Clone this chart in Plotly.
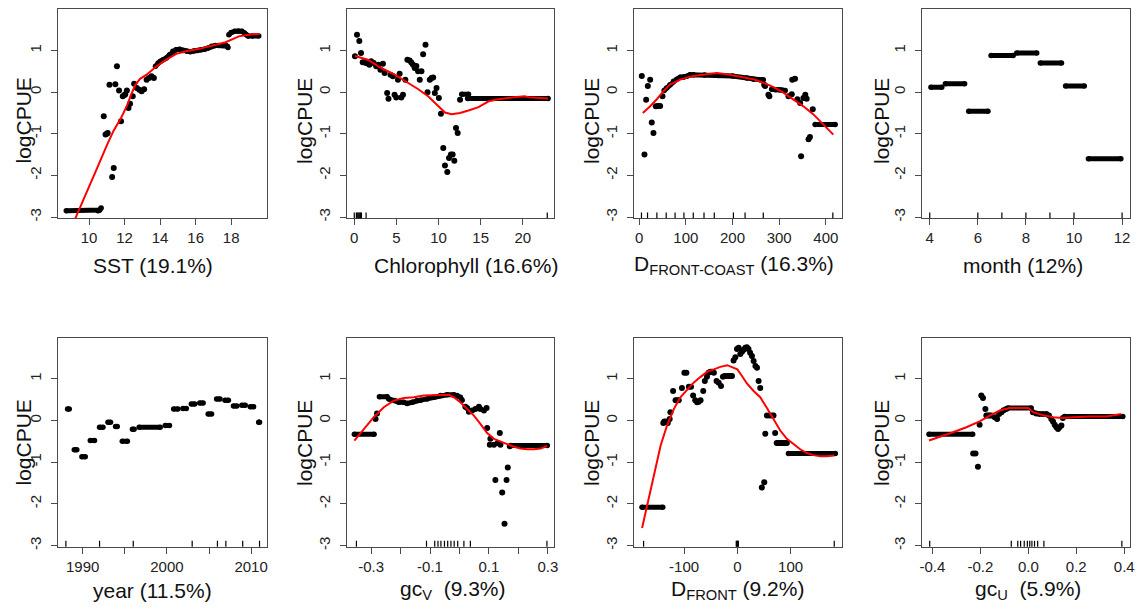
import plotly.graph_objects as go

W, H = 1139, 611

# ---------------- data ----------------
Y_TICKS = [-3, -2, -1, 0, 1]

# Panel 1: SST
sst_pts_x = [10.83, 10.93, 11.0, 11.05, 11.15, 11.3, 11.39, 11.48, 11.57, 11.69, 11.8, 11.9, 12.0, 12.04,
             12.13, 12.22, 12.31, 12.46, 12.54, 12.69, 12.83, 12.96, 13.1, 13.24, 13.37, 13.52, 13.65]
sst_pts_y = [-0.58, -1.02, -1.0, -0.98, 0.18, -2.04, -1.82, 0.19, 0.62, 0.04, -0.7, -0.1, -0.07, -0.05,
             0.04, -0.38, -0.28, -0.1, 0.2, 0.1, 0.06, 0.02, 0.07, 0.3, 0.34, 0.38, 0.34]
sst_bands_x = [[8.72, 10.5, 10.6, 10.68],
               [13.74, 13.89, 14.02, 14.17, 14.35, 14.54, 14.72, 14.9, 15.1, 15.3, 15.5, 15.7, 15.9, 16.1,
                16.3, 16.5, 16.7, 16.9, 17.1, 17.3, 17.5, 17.7, 17.78, 17.82],
               [17.87, 18.0, 18.2, 18.4, 18.6, 18.75, 18.85, 18.95, 19.2, 19.55]]
sst_bands_y = [[-2.85, -2.85, -2.83, -2.78],
               [0.62, 0.7, 0.74, 0.78, 0.82, 0.9, 0.98, 1.02, 1.03, 1.0, 0.98, 0.97, 0.99, 1.0,
                1.02, 1.03, 1.06, 1.1, 1.12, 1.12, 1.12, 1.12, 1.1, 1.07],
               [1.38, 1.43, 1.46, 1.47, 1.46, 1.42, 1.38, 1.35, 1.35, 1.35]]
sst_fit_x = [9.2, 9.91, 10.46, 11.02, 11.39, 11.8, 12.13, 12.41, 12.59, 12.87, 13.24, 13.8, 14.35,
             14.91, 15.46, 16.2, 16.94, 17.69, 18.43, 19.17, 19.6]
sst_fit_y = [-3.06, -2.38, -1.82, -1.26, -0.92, -0.62, -0.33, -0.02, 0.16, 0.32, 0.42, 0.62, 0.78,
             0.92, 0.98, 1.04, 1.12, 1.2, 1.34, 1.39, 1.39]
sst_rug = []

# Panel 2: Chlorophyll
chl_pts_x = [0.08, 0.32, 0.6, 0.8, 1.0, 1.2, 1.4, 1.6, 1.8, 2.0, 2.3, 2.6, 2.87, 3.1, 3.4, 3.6, 3.9, 4.06,
             4.3, 4.58, 4.78, 4.98, 5.18, 5.38, 5.58, 5.78, 6.06, 6.3, 6.57, 6.77, 6.97, 7.17, 7.37, 7.57,
             7.77, 7.97, 8.17, 8.45, 8.69, 8.96, 9.16, 9.36, 9.56, 9.76, 10.04, 10.28, 10.56, 10.76, 11.04,
             11.24, 11.47, 11.67, 11.87, 12.07, 12.27, 12.55]
chl_pts_y = [0.86, 1.38, 1.23, 0.94, 0.72, 0.72, 0.7, 0.69, 0.66, 0.74, 0.7, 0.62, 0.66, 0.54, 0.68, 0.46,
             -0.02, -0.16, 0.42, 0.38, -0.06, -0.13, 0.3, 0.44, -0.13, -0.06, 0.3, 0.78, 0.76, 0.71, 0.66,
             0.58, 0.63, 0.5, 0.3, 0.5, 0.91, 1.14, 0.0, 0.3, 0.34, 0.35, -0.02, 0.1, -0.14, -0.52, -1.34,
             -1.76, -1.92, -1.58, -1.5, -1.5, -1.65, -0.86, -0.98, -0.18]
chl_bands_x = [[12.75, 13.55], [13.45, 23.0]]
chl_bands_y = [[-0.05, -0.05], [-0.15, -0.15]]
chl_fit_x = [0.08, 1.6, 3.2, 4.8, 6.4, 7.6, 8.76, 9.96, 10.76, 11.55, 12.55, 13.55, 14.74, 15.94, 17.1,
             18.7, 20.2, 20.7, 21.9, 23.0]
chl_fit_y = [0.87, 0.78, 0.58, 0.42, 0.22, 0.07, -0.1, -0.34, -0.49, -0.53, -0.5, -0.44, -0.36, -0.22,
             -0.17, -0.13, -0.1, -0.12, -0.14, -0.15]
chl_rug = [0.0, 0.25, 0.35, 0.45, 0.55, 0.65, 0.75, 0.85, 1.4, 22.9]

# Panel 3: D front-coast
dfc_pts_x = [5.7, 11.4, 15, 18.6, 23.6, 27, 30.7, 35.7, 40, 45, 50, 268, 270, 277, 279, 320, 327, 328, 334,
             339, 345, 347, 352, 356, 359, 363, 366, 372]
dfc_pts_y = [0.39, -1.5, -0.18, 0.15, 0.3, -0.73, -0.98, -0.34, -0.33, -0.33, -0.1, 0.18, 0.15, -0.06, -0.1,
             -0.1, -0.05, 0.3, 0.32, -0.17, -0.26, -1.54, -0.14, -0.06, -0.16, -1.13, -1.08, -0.41]
dfc_bands_x = [[53.6, 59, 66, 73.6, 80.7, 88, 95, 102, 109, 116, 140, 170, 200, 231, 245, 259, 266],
               [284, 292, 300, 306, 313],
               [377, 420]]
dfc_bands_y = [[0.04, 0.1, 0.18, 0.26, 0.31, 0.36, 0.36, 0.38, 0.42, 0.42, 0.41, 0.4, 0.39, 0.34, 0.31, 0.3, 0.3],
               [0.07, 0.06, 0.06, 0.05, 0.04],
               [-0.78, -0.78]]
dfc_fit_x = [7.9, 23.6, 37.9, 52, 66, 88, 116, 145, 166, 188, 216, 245, 266, 288, 309, 331, 352, 374, 395, 416]
dfc_fit_y = [-0.5, -0.34, -0.17, 0.02, 0.18, 0.3, 0.39, 0.44, 0.46, 0.43, 0.38, 0.31, 0.23, 0.12, -0.01,
             -0.17, -0.34, -0.54, -0.78, -1.02]
dfc_rug = [5, 18, 38, 58, 77, 96, 116, 139, 161, 202, 227, 266, 415]

# Panel 4: month (factor-like segments)
mon_x0 = [4.05, 4.65, 5.62, 6.55, 7.62, 8.6, 9.65, 10.6]
mon_x1 = [4.5, 5.45, 6.42, 7.47, 8.45, 9.48, 10.43, 11.95]
mon_y = [0.12, 0.2, -0.46, 0.88, 0.94, 0.7, 0.15, -1.6]
mon_rug = [4, 6, 7, 8, 9, 10, 12]

# Panel 5: year
yr_x0 = [1988.2, 1989.0, 1989.9, 1990.9, 1992.0, 1993.0, 1993.9, 1994.7, 1995.9, 1996.7, 1999.8, 2000.8,
         2001.9, 2002.9, 2003.9, 2004.9, 2005.9, 2006.9, 2007.9, 2008.9, 2009.9, 2010.9]
yr_x1 = [1988.4, 1989.3, 1990.3, 1991.4, 1992.4, 1993.3, 1994.1, 1995.3, 1996.1, 1999.2, 2000.3, 2001.3,
         2002.3, 2003.3, 2004.3, 2005.3, 2006.3, 2007.3, 2008.3, 2009.3, 2010.3, 2011.0]
yr_y = [0.28, -0.7, -0.87, -0.48, -0.16, -0.04, -0.14, -0.5, -0.21, -0.16, -0.12, 0.28, 0.29, 0.4, 0.42,
        0.16, 0.52, 0.49, 0.35, 0.37, 0.33, -0.04]
yr_rug = [1988, 1992, 1996, 2003, 2006, 2007, 2009, 2011]

# Panel 6: gcV
gcv_pts_x = [-0.285, -0.28, 0.02, 0.026, 0.032, 0.043, 0.054, 0.066, 0.071, 0.083, 0.092, 0.094, 0.103,
             0.105, 0.117, 0.122, 0.13, 0.137, 0.139, 0.145, 0.153, 0.16, 0.164, 0.171]
gcv_pts_y = [0.04, 0.17, 0.33, 0.3, 0.21, 0.24, 0.28, 0.33, 0.28, 0.24, 0.3, -0.18, -0.58, -0.44, -0.58,
             -1.43, -0.54, -0.3, -0.58, -1.73, -2.48, -1.43, -1.13, -0.62]
gcv_bands_x = [[-0.357, -0.29],
               [-0.272, -0.246, -0.24, -0.22, -0.206, -0.19, -0.178, -0.16, -0.144, -0.132, -0.11, -0.087,
                -0.065, -0.042, -0.019, -0.008, 0.003, 0.009],
               [0.175, 0.298]]
gcv_bands_y = [[-0.33, -0.33],
               [0.57, 0.57, 0.52, 0.48, 0.44, 0.44, 0.41, 0.44, 0.48, 0.49, 0.52, 0.56, 0.6, 0.62, 0.62, 0.6,
                0.56, 0.49],
               [-0.6, -0.6]]
gcv_fit_x = [-0.357, -0.325, -0.291, -0.257, -0.223, -0.189, -0.155, -0.121, -0.087, -0.053, -0.036, -0.019,
             0.003, 0.026, 0.049, 0.071, 0.094, 0.117, 0.139, 0.162, 0.185, 0.207, 0.23, 0.252, 0.275, 0.298]
gcv_fit_y = [-0.48, -0.2, 0.08, 0.32, 0.48, 0.54, 0.56, 0.6, 0.61, 0.63, 0.62, 0.56, 0.44, 0.28, 0.12, -0.08,
             -0.3, -0.44, -0.5, -0.57, -0.63, -0.67, -0.69, -0.69, -0.67, -0.61]
gcv_rug = [-0.35, -0.112, -0.084, -0.073, -0.063, -0.051, -0.04, -0.029, -0.018, -0.006, 0.015, 0.037, 0.297]

# Panel 7: D front
df_pts_x = [-139, -137, -133, -130.6, -127, -125.6, -120.6, -116, -113, -110, -104, -99.4, -95.6, -91, -87,
            -83, -79, -75.6, -72.5, -69, -64, -61, -57, -54, -50.6, -47.5, -44, -39, -35, -30.6, -27, -24,
            -19.4, -16, -13, -10, -7, -3.75, -0.6, 2.5, 5.6, 8.75, 12, 15, 18, 21, 24, 27.5, 30.6, 34, 37,
            40, 43, 46, 50.6, 52.5, 55.6, 60.6, 65, 68, 71, 74, 77, 80.6, 84, 87, 90, 93]
df_pts_y = [-0.06, -0.02, -0.02, -0.06, 0.04, 0.2, 0.71, 0.49, 0.49, 0.49, 0.78, 1.15, 1.15, 0.81, 0.81,
            0.6, 0.49, 0.44, 0.45, 0.49, 0.71, 0.95, 1.05, 1.15, 1.17, 1.17, 1.15, 0.95, 0.91, 0.83, 1.05,
            1.07, 1.07, 1.07, 1.07, 1.07, 1.44, 1.52, 1.72, 1.75, 1.6, 1.65, 1.7, 1.75, 1.76, 1.72, 1.63,
            1.55, 1.43, 1.31, 1.27, 0.95, 0.78, -1.61, -1.48, -0.32, 0.12, 0.12, 0.12, 0.12, -0.3, -0.54,
            -0.54, -0.54, -0.54, -0.54, -0.54, -0.54]
df_bands_x = [[-179, -140], [96, 184]]
df_bands_y = [[-2.08, -2.08], [-0.79, -0.79]]
df_fit_x = [-178.8, -169, -157, -144, -132, -119, -107, -94, -82, -69, -57, -44, -32, -19, -10, 0, 8.75,
            18, 30.6, 43, 55.6, 68, 80.6, 93, 105.6, 118, 130.6, 143, 155.6, 168, 182]
df_fit_y = [-2.58, -2.02, -1.27, -0.6, -0.12, 0.28, 0.56, 0.75, 0.91, 1.05, 1.17, 1.23, 1.29, 1.33, 1.29,
            1.23, 1.07, 0.89, 0.71, 0.56, 0.3, 0.04, -0.24, -0.44, -0.57, -0.69, -0.78, -0.83, -0.86, -0.86,
            -0.84]
df_rug = [-176, -2, -1, 0, 1, 2, 182]

# Panel 8: gcU
gcu_pts_x = [-0.23, -0.22, -0.21, -0.203, -0.196, -0.189, -0.179, -0.175, -0.168, -0.161, -0.154, -0.14,
             -0.13, -0.122, -0.112, -0.103, -0.092, 0.019, 0.033, 0.047, 0.061, 0.075, 0.086, 0.096, 0.103,
             0.11, 0.117, 0.124, 0.13, 0.138, 0.144]
gcu_pts_y = [-0.79, -0.79, -1.11, -0.1, 0.6, 0.54, 0.28, 0.12, 0.12, 0.12, 0.12, 0.08, 0.04, 0.16, 0.2,
             0.25, 0.28, 0.2, 0.17, 0.16, 0.16, 0.16, 0.12, 0.04, -0.02, -0.1, -0.16, -0.2, -0.16, -0.12, 0.06]
gcu_bands_x = [[-0.414, -0.232], [-0.085, 0.012], [0.151, 0.394]]
gcu_bands_y = [[-0.33, -0.33], [0.3, 0.3], [0.1, 0.1]]
gcu_fit_x = [-0.414, -0.37, -0.314, -0.258, -0.203, -0.161, -0.119, -0.078, -0.036, 0.0, 0.019, 0.061,
             0.103, 0.144, 0.186, 0.256, 0.325, 0.388]
gcu_fit_y = [-0.48, -0.4, -0.28, -0.16, -0.02, 0.12, 0.24, 0.3, 0.3, 0.3, 0.2, 0.13, 0.08, 0.06, 0.08,
             0.1, 0.1, 0.16]
gcu_rug = [-0.411, -0.071, -0.044, -0.032, -0.017, -0.004, 0.006, 0.015, 0.026, 0.039, 0.065, 0.39]

titles = ["SST (19.1%)", "Chlorophyll (16.6%)", "D<sub>FRONT-COAST</sub> (16.3%)", "month (12%)",
          "year (11.5%)", "gc<sub>V</sub>\u00a0 (9.3%)", "D<sub>FRONT</sub> (9.2%)", "gc<sub>U</sub>\u00a0 (5.9%)"]
y_title = "logCPUE"

# labelled ticks and unlabelled (minor) ticks of each x axis
xtickvals = [[10, 12, 14, 16, 18], [0, 5, 10, 15, 20], [0, 100, 200, 300, 400], [4, 6, 8, 10, 12],
             [1990, 2000, 2010], [-0.3, -0.1, 0.1, 0.3], [-100, 0, 100],
             [-0.4, -0.2, 0.0, 0.2, 0.4]]
xticktext = [["10", "12", "14", "16", "18"], ["0", "5", "10", "15", "20"], ["0", "100", "200", "300", "400"],
             ["4", "6", "8", "10", "12"], ["1990", "2000", "2010"],
             ["-0.3", "-0.1", "0.1", "0.3"], ["-100", "0", "100"],
             ["-0.4", "-0.2", "0.0", "0.2", "0.4"]]
xminorvals = [[], [], [], [], [1995, 2005], [-0.2, 0.0, 0.2], [], []]

# ---------------- layout geometry (pixels) ----------------
cols = [(58.3, 266.7), (346.7, 554.0), (634.0, 841.7), (922.3, 1130.0)]
rows = [(9.3, 218.3), (337.7, 546.7)]
xtitle_cx = [152.5, 465.5, 734, 1023, 152.5, 452.5, 737, 1027.7]
xtitle_cy = [265, 590]
ytitle_cx = [22.5, 304, 591, 881]
ytitle_cy = [121, 443]

xranges = [[8.27, 20.0], [-0.9, 23.7], [-11, 434], [3.69, 12.33],
           [1987.1, 2011.85], [-0.383, 0.321], [-194, 196], [-0.442, 0.424]]
YRANGE = [-3.03, 1.99]

FONT = "Liberation Sans, Arial, sans-serif"
AX = "#4a4a4a"
TXT = "#222222"

fig = go.Figure()


def seg_arrays(x0, x1, yv):
    xs, ys = [], []
    for a, b, c in zip(x0, x1, yv):
        xs += [a, b, None]
        ys += [c, c, None]
    return xs, ys


def band_arrays(bx, by):
    xs, ys = [], []
    for a, b in zip(bx, by):
        xs += list(a) + [None]
        ys += list(b) + [None]
    return xs, ys


panels = [
    dict(pts=(sst_pts_x, sst_pts_y), bands=band_arrays(sst_bands_x, sst_bands_y), fit=(sst_fit_x, sst_fit_y), rug=sst_rug),
    dict(pts=(chl_pts_x, chl_pts_y), bands=band_arrays(chl_bands_x, chl_bands_y), fit=(chl_fit_x, chl_fit_y), rug=chl_rug),
    dict(pts=(dfc_pts_x, dfc_pts_y), bands=band_arrays(dfc_bands_x, dfc_bands_y), fit=(dfc_fit_x, dfc_fit_y), rug=dfc_rug),
    dict(pts=None, bands=seg_arrays(mon_x0, mon_x1, mon_y), fit=None, rug=mon_rug),
    dict(pts=None, bands=seg_arrays(yr_x0, yr_x1, yr_y), fit=None, rug=yr_rug),
    dict(pts=(gcv_pts_x, gcv_pts_y), bands=band_arrays(gcv_bands_x, gcv_bands_y), fit=(gcv_fit_x, gcv_fit_y), rug=gcv_rug),
    dict(pts=(df_pts_x, df_pts_y), bands=band_arrays(df_bands_x, df_bands_y), fit=(df_fit_x, df_fit_y), rug=df_rug),
    dict(pts=(gcu_pts_x, gcu_pts_y), bands=band_arrays(gcu_bands_x, gcu_bands_y), fit=(gcu_fit_x, gcu_fit_y), rug=gcu_rug),
]

shapes = []
annotations = []
for i, p in enumerate(panels):
    n = i + 1
    xa = "x" if n == 1 else f"x{n}"
    ya = "y" if n == 1 else f"y{n}"
    r, c = divmod(i, 4)
    bx, by = p["bands"]
    fig.add_trace(go.Scatter(x=bx, y=by, xaxis=xa, yaxis=ya, mode="lines+markers",
                             line=dict(color="black", width=5),
                             marker=dict(color="black", size=5.5), showlegend=False, hoverinfo="skip"))
    if p["pts"] is not None:
        fig.add_trace(go.Scatter(x=p["pts"][0], y=p["pts"][1], xaxis=xa, yaxis=ya, mode="markers",
                                 marker=dict(color="black", size=6), showlegend=False, hoverinfo="skip"))
    if p["fit"] is not None:
        fig.add_trace(go.Scatter(x=p["fit"][0], y=p["fit"][1], xaxis=xa, yaxis=ya, mode="lines",
                                 line=dict(color="#ff0000", width=2), showlegend=False, hoverinfo="skip"))
    for v in p["rug"]:
        shapes.append(dict(type="line", xref=xa, yref=f"{ya} domain", x0=v, x1=v, y0=0, y1=0.028,
                           line=dict(color="black", width=1.2)))

    x0p, x1p = cols[c]
    ytop, ybot = rows[r]
    axis_common = dict(showgrid=False, zeroline=False, showline=True, mirror=True, linecolor=AX,
                       linewidth=1, ticks="outside", ticklen=6, tickcolor=AX, tickwidth=1,
                       tickfont=dict(family=FONT, size=15, color=TXT), automargin=False)
    xaxis = dict(domain=[x0p / W, x1p / W], anchor=ya, range=xranges[i],
                 tickmode="array", tickvals=xtickvals[i], ticktext=xticktext[i], **axis_common)
    if xminorvals[i]:
        xaxis["minor"] = dict(tickmode="array", tickvals=xminorvals[i], ticks="outside", ticklen=6,
                              tickcolor=AX, tickwidth=1, showgrid=False)
    fig.update_layout(**{
        ("xaxis" if n == 1 else f"xaxis{n}"): xaxis,
        ("yaxis" if n == 1 else f"yaxis{n}"): dict(
            domain=[1 - ybot / H, 1 - ytop / H], anchor=xa, range=YRANGE,
            tickmode="array", tickvals=Y_TICKS, ticktext=[str(t) for t in Y_TICKS], tickangle=-90,
            ticklabelstandoff=4, **axis_common),
    })
    annotations.append(dict(text=titles[i], xref="paper", yref="paper", x=xtitle_cx[i] / W,
                            y=1 - xtitle_cy[r] / H, xanchor="center", yanchor="middle", showarrow=False,
                            font=dict(family=FONT, size=21, color="#111111")))
    annotations.append(dict(text=y_title, xref="paper", yref="paper", x=ytitle_cx[c] / W,
                            y=1 - ytitle_cy[r] / H, xanchor="center", yanchor="middle", showarrow=False,
                            textangle=-90, font=dict(family=FONT, size=21, color="#111111")))

fig.update_layout(width=W, height=H, margin=dict(l=0, r=0, t=0, b=0), plot_bgcolor="white",
                  paper_bgcolor="white", shapes=shapes, annotations=annotations, showlegend=False)

fig.write_html("out.html", config={"displayModeBar": False},
               post_script="document.body.style.margin='0';")
